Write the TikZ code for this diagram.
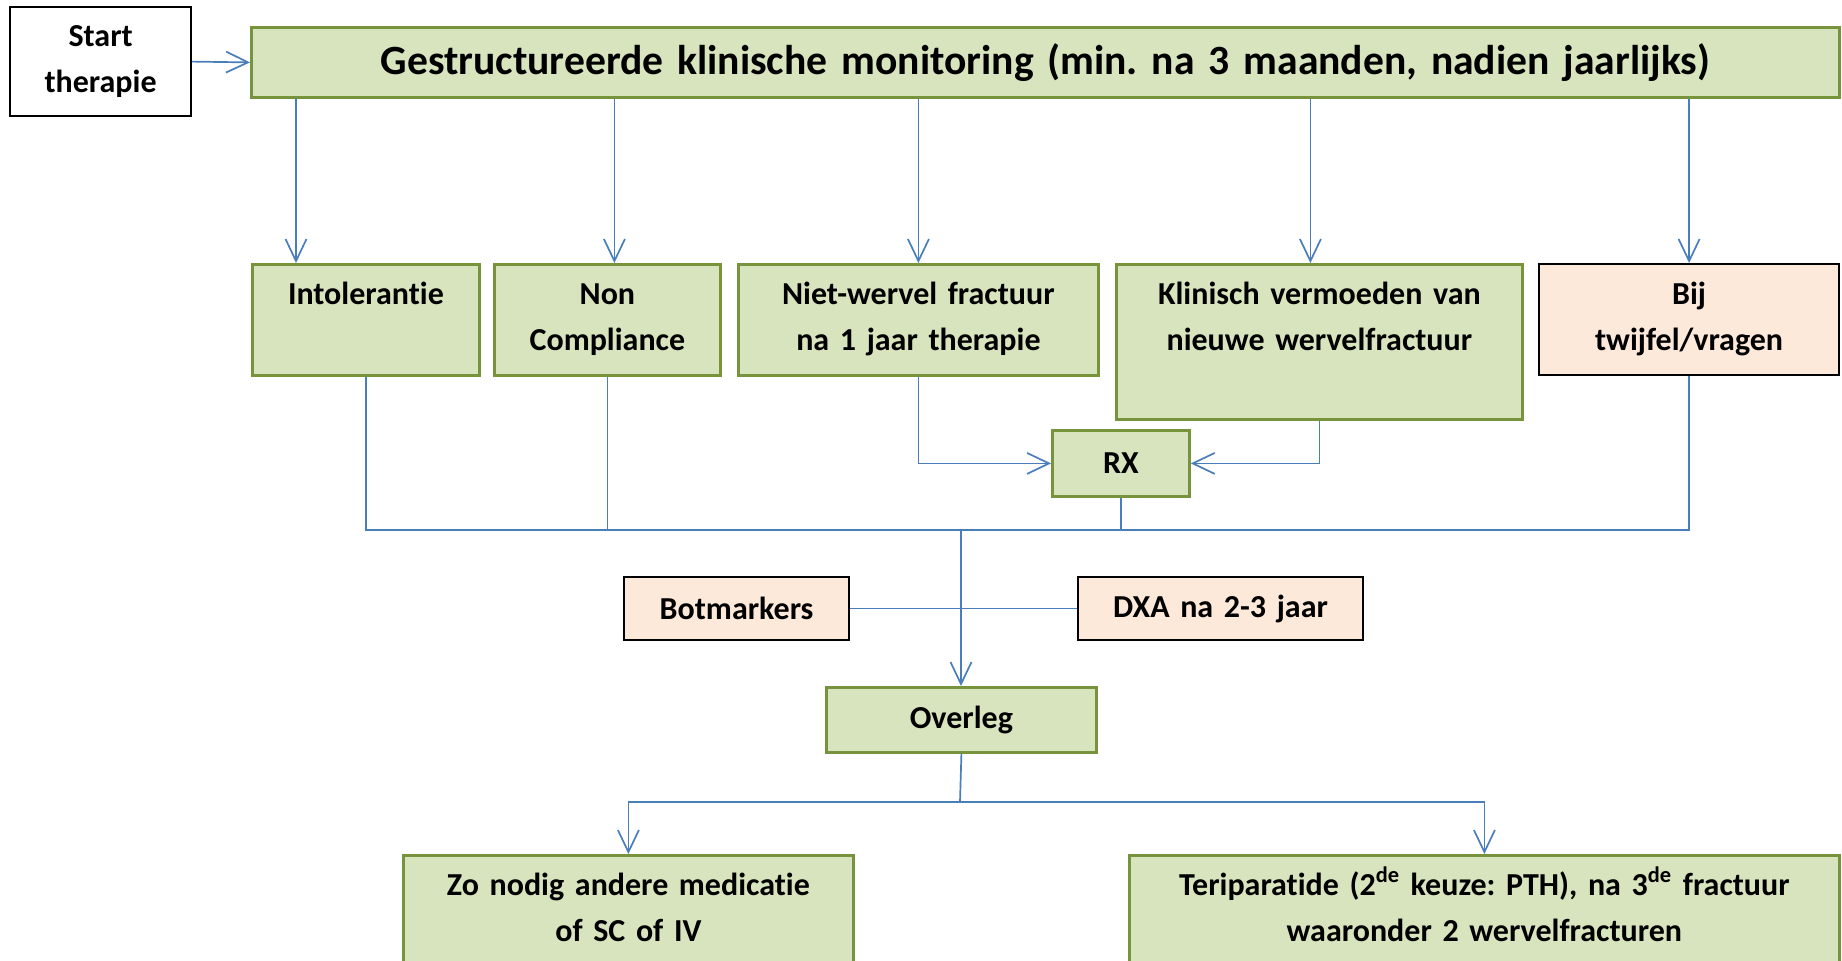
\documentclass[tikz,border=0pt]{standalone}
\usepackage{fontspec}
\setmainfont{Carlito}[Ligatures=NoCommon]
\frenchspacing
\usetikzlibrary{arrows.meta,positioning}
\definecolor{fillgreen}{HTML}{D7E4BD}
\definecolor{boxgreen}{HTML}{77933C}
\definecolor{fillpeach}{HTML}{FDE9D9}
\definecolor{flowblue}{HTML}{4A7EBB}
\tikzset{box/.style={rectangle,inner sep=0pt,align=center,anchor=north west,font=\bfseries\fontsize{16}{23}\selectfont}}
\tikzset{green box/.style={box,draw=boxgreen,fill=fillgreen,line width=1.4pt}}
\tikzset{peach box/.style={box,draw=black,fill=fillpeach,line width=1.1pt}}
\tikzset{top text/.style={text height=20pt,text depth=#1}}
\tikzset{flow/.style={draw=flowblue,line width=0.85pt}}
\tikzset{flow arrow/.style={flow,-{Straight Barb[length=11pt,width=10.5pt]}}}

\begin{document}
\begin{tikzpicture}[x=0.5pt,y=-0.5pt]
\clip (0,0) rectangle (1842,960);
\node[box,draw=black,fill=white,line width=1.1pt,text width=90.5pt,minimum height=54.5pt](start) at (9,6){Start\\therapie};
\node[green box,text width=794pt,minimum height=35pt,font=\bfseries\fontsize{20.8}{25}\selectfont](monitoring) at (250,26){Gestructureerde klinische monitoring (min. na 3 maanden, nadien jaarlijks)};
\node[green box,top text=35.5pt,text width=113.5pt](intol) at (251,263){Intolerantie};
\node[green box,top text=35.5pt,text width=113pt](noncomp) at (493,263){Non\\Compliance};
\node[green box,top text=35.5pt,text width=180pt](nietwervel) at (737,263){Niet-wervel fractuur\\na 1 jaar therapie};
\node[green box,top text=57.5pt,text width=203pt](klinisch) at (1115,263){Klinisch vermoeden van\\nieuwe wervelfractuur};
\node[peach box,top text=35.5pt,text width=150pt](twijfel) at (1538,263){Bij\\twijfel/vragen};
\node[green box,text width=68.5pt,minimum height=33pt](rx) at (1051,429){RX};
\node[peach box,text width=112.5pt,minimum height=31.5pt](botm) at (623,576){Botmarkers};
\node[peach box,text width=142.5pt,minimum height=31.5pt](dxa) at (1077,576){DXA na 2-3 jaar};
\node[green box,text width=135pt,minimum height=32.5pt](overleg) at (825,686){Overleg};
\node[green box,top text=50pt,text width=225pt](zonodig) at (402,854){Zo nodig andere medicatie\\of SC of IV};
\node[green box,top text=50pt,text width=355pt](teri) at (1128,854){Teriparatide (2\textsuperscript{de} keuze: PTH), na 3\textsuperscript{de} fractuur\\waaronder 2 wervelfracturen};
\coordinate (bus) at (961,530);
\coordinate (split) at (960,802);
\draw[flow arrow](start.east) -- (monitoring.west);
\draw[flow arrow]([xshift=22.5pt]intol.north west |- monitoring.south) -- ([xshift=22.5pt]intol.north west);
\draw[flow arrow]([xshift=3.5pt]noncomp.north |- monitoring.south) -- ([xshift=3.5pt]noncomp.north);
\draw[flow arrow](nietwervel.north |- monitoring.south) -- (nietwervel.north);
\draw[flow arrow]([xshift=-4.5pt]klinisch.north |- monitoring.south) -- ([xshift=-4.5pt]klinisch.north);
\draw[flow arrow](twijfel.north |- monitoring.south) -- (twijfel.north);
\draw[flow arrow](nietwervel.south) |- (rx.west);
\draw[flow arrow](klinisch.south) |- (rx.east);
\draw[flow](intol.south) |- (bus) -| (twijfel.south);
\draw[flow](noncomp.south) -- (noncomp.south |- bus);
\draw[flow](rx.south) -- (rx.south |- bus);
\draw[flow](botm.east) -- (dxa.west);
\draw[flow arrow](bus) -- (bus |- overleg.north);
\draw[flow](overleg.south) -- (split);
\draw[flow arrow](split) -| (zonodig.north);
\draw[flow arrow](split) -| (teri.north);
\end{tikzpicture}
\end{document}
